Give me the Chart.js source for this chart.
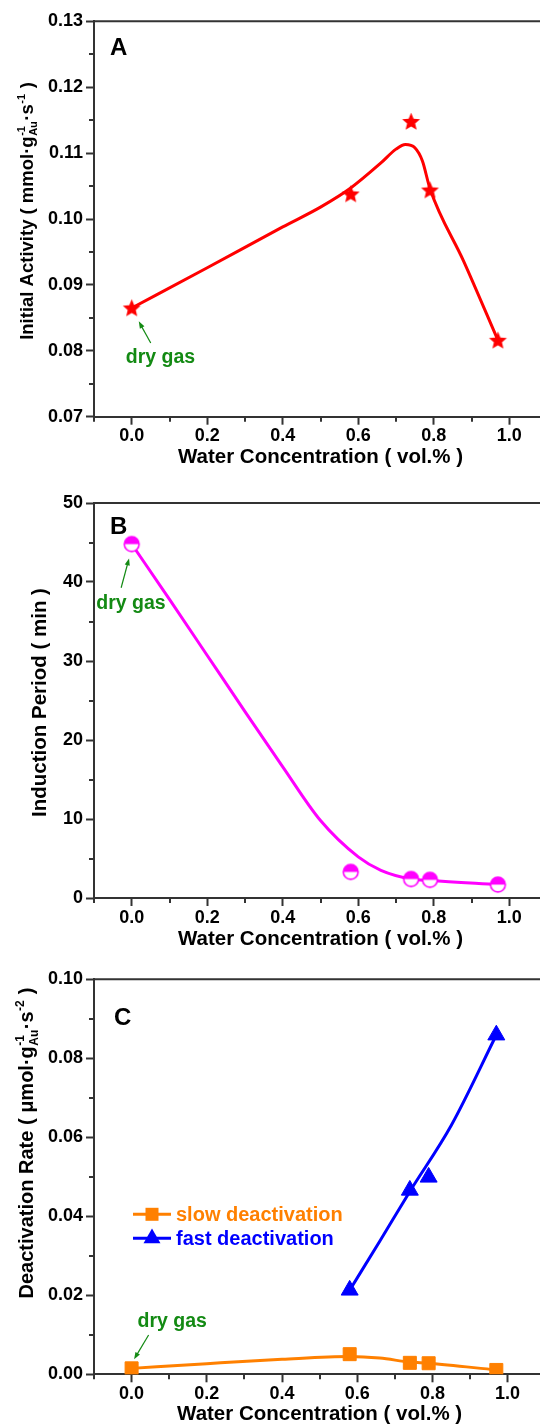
<!DOCTYPE html>
<html>
<head>
<meta charset="utf-8">
<script src="https://cdn.jsdelivr.net/npm/chart.js@4.4.1/dist/chart.umd.min.js"></script>
<style>
  html, body { margin: 0; padding: 0; background: #fff; }
  #wrap { position: relative; width: 540px; height: 1427px; overflow: hidden; background: #fff; }
  #wrap canvas { position: absolute; left: 0; }
</style>
</head>
<body>
<div id="wrap">
  <canvas id="chartA" width="556" height="476" style="top:0px"></canvas>
  <canvas id="chartB" width="556" height="476" style="top:476px"></canvas>
  <canvas id="chartC" width="556" height="475" style="top:952px"></canvas>
</div>
<script>
// ==========================================
// DATA
// ==========================================

// water concentration (vol.%) of the measured samples
const waterConc = [0, 0.58, 0.74, 0.79, 0.97];
const initialActivity = [0.0865, 0.1038, 0.1148, 0.1044, 0.0816];
const inductionPeriod = [44.8, 3.3, 2.4, 2.3, 1.7];
const slowRate = [0.0015, 0.0051, 0.0029, 0.0028, 0.0011];
const fastConc = [0.58, 0.74, 0.79, 0.97];
const fastRate = [0.0213, 0.0466, 0.0499, 0.0859];

// guide curves as drawn in the figure
const fitActX = [0, 0.2, 0.4, 0.5, 0.58, 0.66, 0.70, 0.725, 0.75, 0.77, 0.79, 0.88, 0.97];
const fitActY = [0.0865, 0.0926, 0.0988, 0.1018, 0.1047, 0.1085, 0.1106, 0.1113, 0.1108, 0.1088, 0.1046, 0.0935, 0.0816];
const fitIndX = [0, 0.1, 0.2, 0.3, 0.4, 0.5, 0.6, 0.66, 0.74, 0.79, 0.97];
const fitIndY = [44.8, 37.8, 30.7, 23.6, 16.6, 9.8, 5.2, 3.5, 2.4, 2.2, 1.7];
const fitSlowX = [0, 0.2, 0.4, 0.58, 0.66, 0.74, 0.79, 0.97];
const fitSlowY = [0.0015, 0.0027, 0.0038, 0.0045, 0.0041, 0.0031, 0.0028, 0.0011];
const fitFastX = [0.58, 0.66, 0.74, 0.85, 0.97];
const fitFastY = [0.0213, 0.0337, 0.0463, 0.0630, 0.0859];

// tick labels
const xTickLabels = [0.0, 0.2, 0.4, 0.6, 0.8, 1.0];
const activityTicks = [0.07, 0.08, 0.09, 0.10, 0.11, 0.12, 0.13];
const inductionTicks = [0, 10, 20, 30, 40, 50];
const rateTicks = [0.00, 0.02, 0.04, 0.06, 0.08, 0.10];

// ==========================================
// STYLE
// ==========================================
const FONT = "'Liberation Sans', Arial, Helvetica, sans-serif";
const AXIS_COLOR = '#333333';
const GREEN = '#138a13';
const RED = '#ff0000';
const MAGENTA = '#ff00ff';
const ORANGE = '#ff8000';
const BLUE = '#0000ff';

Chart.defaults.font.family = FONT;
Chart.defaults.font.weight = 'bold';
Chart.defaults.color = '#000';
Chart.defaults.animation = false;

function zipXY(xs, ys) {
    return xs.map((x, i) => ({ x: x, y: ys[i] }));
}

function isLabeled(v, list) {
    return list.some(l => Math.abs(l - v) < 1e-9);
}

// filled five-point star marker
function starMarker(color, R) {
    const s = Math.ceil(2 * R) + 2;
    const c = document.createElement('canvas');
    c.width = c.height = s;
    const g = c.getContext('2d');
    g.translate(s / 2, s / 2 + R * 0.08);
    g.beginPath();
    for (let k = 0; k < 10; k++) {
        const rr = k % 2 ? R * 0.45 : R;
        const a = -Math.PI / 2 + k * Math.PI / 5;
        g.lineTo(rr * Math.cos(a), rr * Math.sin(a));
    }
    g.closePath();
    g.fillStyle = color;
    g.fill();
    return c;
}

// circle with top half filled
function halfCircleMarker(color, r) {
    const s = Math.ceil(2 * r) + 4;
    const c = document.createElement('canvas');
    c.width = c.height = s;
    const g = c.getContext('2d');
    const m = s / 2;
    g.beginPath(); g.arc(m, m, r, 0, Math.PI * 2); g.fillStyle = '#fff'; g.fill();
    g.beginPath(); g.arc(m, m, r, Math.PI, Math.PI * 2); g.closePath(); g.fillStyle = color; g.fill();
    g.beginPath(); g.arc(m, m, r, 0, Math.PI * 2); g.lineWidth = 1.6; g.strokeStyle = color; g.stroke();
    return c;
}

// ==========================================
// PLUGINS
// ==========================================

// top/right frame lines + short minor ticks
const framePlugin = {
    id: 'frame',
    afterDraw(chart, args, o) {
        const ctx = chart.ctx;
        const a = chart.chartArea;
        const xs = chart.scales.x, ys = chart.scales.y;
        ctx.save();
        ctx.strokeStyle = AXIS_COLOR;
        ctx.lineWidth = 2;
        ctx.beginPath();
        ctx.moveTo(a.left - 1, a.top);
        ctx.lineTo(a.right, a.top);
        ctx.lineTo(a.right, a.bottom);
        ctx.stroke();
        xs.ticks.forEach(t => {
            if (isLabeled(t.value, o.xLabels)) return;
            const px = Math.round(xs.getPixelForValue(t.value));
            ctx.beginPath(); ctx.moveTo(px, a.bottom); ctx.lineTo(px, a.bottom + 5); ctx.stroke();
        });
        ys.ticks.forEach(t => {
            if (isLabeled(t.value, o.yLabels)) return;
            const py = Math.round(ys.getPixelForValue(t.value));
            ctx.beginPath(); ctx.moveTo(a.left, py); ctx.lineTo(a.left - 5, py); ctx.stroke();
        });
        ctx.restore();
    }
};

// rotated y title with super/subscripts
const yTitlePlugin = {
    id: 'yTitle',
    afterDraw(chart, args, o) {
        const ctx = chart.ctx;
        const size = o.size;
        const small = Math.round(size * 0.62);
        const big = 'bold ' + size + 'px ' + FONT;
        const sm = 'bold ' + small + 'px ' + FONT;
        const widthOf = p => {
            if (p.t !== undefined) { ctx.font = big; return ctx.measureText(p.t).width; }
            ctx.font = sm;
            return Math.max(p.sup ? ctx.measureText(p.sup).width : 0, p.sub ? ctx.measureText(p.sub).width : 0) + 1;
        };
        ctx.save();
        const total = o.parts.reduce((s, p) => s + widthOf(p), 0);
        ctx.translate(o.x, o.cy);
        ctx.rotate(-Math.PI / 2);
        ctx.fillStyle = '#000';
        ctx.textBaseline = 'alphabetic';
        let x = -total / 2;
        o.parts.forEach(p => {
            const w = widthOf(p);
            if (p.t !== undefined) {
                ctx.font = big; ctx.fillText(p.t, x, 0);
            } else {
                ctx.font = sm;
                if (p.sup) ctx.fillText(p.sup, x + 0.5, -size * 0.45);
                if (p.sub) ctx.fillText(p.sub, x + 0.5, size * 0.24);
            }
            x += w;
        });
        ctx.restore();
    }
};

// big panel letter
const panelLetterPlugin = {
    id: 'panelLetter',
    afterDraw(chart, args, o) {
        const ctx = chart.ctx;
        ctx.save();
        ctx.font = 'bold 24px ' + FONT;
        ctx.fillStyle = '#000';
        ctx.textBaseline = 'alphabetic';
        ctx.fillText(o.text, o.x, o.y);
        ctx.restore();
    }
};

// "dry gas" note with arrow, placed relative to a data point
const dryGasPlugin = {
    id: 'dryGas',
    afterDatasetsDraw(chart, args, o) {
        const p = chart.getDatasetMeta(o.dataset).data[o.index];
        if (!p) return;
        const ctx = chart.ctx;
        const tx = p.x + o.tip[0], ty = p.y + o.tip[1];
        const sx = p.x + o.tail[0], sy = p.y + o.tail[1];
        const ang = Math.atan2(ty - sy, tx - sx);
        ctx.save();
        ctx.strokeStyle = GREEN;
        ctx.fillStyle = GREEN;
        ctx.lineWidth = 1.2;
        ctx.beginPath(); ctx.moveTo(sx, sy); ctx.lineTo(tx - 4 * Math.cos(ang), ty - 4 * Math.sin(ang)); ctx.stroke();
        ctx.beginPath();
        ctx.moveTo(tx, ty);
        ctx.lineTo(tx - 7 * Math.cos(ang) + 2.6 * Math.sin(ang), ty - 7 * Math.sin(ang) - 2.6 * Math.cos(ang));
        ctx.lineTo(tx - 7 * Math.cos(ang) - 2.6 * Math.sin(ang), ty - 7 * Math.sin(ang) + 2.6 * Math.cos(ang));
        ctx.closePath();
        ctx.fill();
        ctx.font = 'bold 19.5px ' + FONT;
        ctx.textBaseline = 'alphabetic';
        ctx.fillText(o.label, p.x + o.text[0], p.y + o.text[1]);
        ctx.restore();
    }
};

// line + marker legend inside the plot (panel C)
const seriesLegendPlugin = {
    id: 'seriesLegend',
    afterDraw(chart, args, o) {
        if (!o.items) return;
        const ctx = chart.ctx;
        ctx.save();
        o.items.forEach((di, i) => {
            const ds = chart.data.datasets[di];
            const y = o.y + i * o.gap;
            const cx = o.x + o.len / 2;
            ctx.strokeStyle = ds.borderColor;
            ctx.fillStyle = ds.backgroundColor;
            ctx.lineWidth = 3;
            ctx.beginPath(); ctx.moveTo(o.x, y); ctx.lineTo(o.x + o.len, y); ctx.stroke();
            const r = ds.pointRadius;
            ctx.beginPath();
            if (ds.pointStyle === 'rect') {
                const h = r * Math.SQRT1_2;
                ctx.rect(cx - h, y - h, 2 * h, 2 * h);
            } else {
                for (let k = 0; k < 3; k++) {
                    const a = k * 2 * Math.PI / 3;
                    ctx.lineTo(cx + Math.sin(a) * r, y - Math.cos(a) * r);
                }
                ctx.closePath();
            }
            ctx.fill();
            ctx.font = 'bold 20px ' + FONT;
            ctx.textBaseline = 'middle';
            ctx.fillStyle = ds.borderColor;
            ctx.fillText(ds.label, o.x + o.len + 5, y + 1);
        });
        ctx.restore();
    }
};

// ==========================================
// SHARED OPTIONS
// ==========================================
function tickGrid(labels) {
    return {
        display: true,
        drawOnChartArea: false,
        drawTicks: true,
        tickLength: 8,
        tickWidth: 2,
        tickColor: c => (c.tick && isLabeled(c.tick.value, labels)) ? AXIS_COLOR : 'rgba(0,0,0,0)'
    };
}

function buildOptions(cfg) {
    return {
        responsive: false,
        devicePixelRatio: 1,
        events: [],
        layout: { padding: { top: cfg.plotTop, right: 6, left: 0, bottom: 0 } },
        scales: {
            x: {
                type: 'linear',
                min: -0.1,
                max: 1.1,
                ticks: {
                    stepSize: 0.1,
                    autoSkip: false,
                    maxRotation: 0,
                    padding: 1,
                    color: '#000',
                    font: { size: 18, weight: 'bold' },
                    callback: v => isLabeled(v, xTickLabels) ? v.toFixed(1) : ''
                },
                grid: tickGrid(xTickLabels),
                border: { display: true, color: AXIS_COLOR, width: 2 },
                title: {
                    display: true,
                    text: 'Water Concentration ( vol.% )',
                    color: '#000',
                    font: { size: 20.5, weight: 'bold' },
                    padding: { top: 0, bottom: cfg.titlePad }
                },
                afterFit: s => { s.height = cfg.xHeight; }
            },
            y: {
                type: 'linear',
                min: cfg.yMin,
                max: cfg.yMax,
                ticks: {
                    stepSize: cfg.yStep,
                    autoSkip: false,
                    padding: 3,
                    color: '#000',
                    font: { size: 18, weight: 'bold' },
                    callback: v => isLabeled(v, cfg.yLabels) ? v.toFixed(cfg.digits) : ''
                },
                grid: tickGrid(cfg.yLabels),
                border: { display: true, color: AXIS_COLOR, width: 2 },
                afterFit: s => { s.width = 94; }
            }
        },
        plugins: {
            legend: { display: false },
            tooltip: { enabled: false },
            frame: { xLabels: xTickLabels, yLabels: cfg.yLabels },
            yTitle: cfg.yTitle,
            panelLetter: cfg.letter,
            dryGas: cfg.dryGas,
            seriesLegend: cfg.legend || {}
        }
    };
}

const allPlugins = [framePlugin, yTitlePlugin, panelLetterPlugin, dryGasPlugin, seriesLegendPlugin];

// ==========================================
// PANEL A - initial activity
// ==========================================
new Chart(document.getElementById('chartA'), {
    type: 'scatter',
    data: {
        datasets: [
            { label: 'Initial Activity', data: zipXY(waterConc, initialActivity), pointStyle: starMarker(RED, 9.4), pointRadius: 8, showLine: false },
            { label: 'fit A', data: zipXY(fitActX, fitActY), showLine: true, borderColor: RED, borderWidth: 3, pointRadius: 0, cubicInterpolationMode: 'monotone' }
        ]
    },
    options: buildOptions({
        plotTop: 21.3, xHeight: 59.3, titlePad: 6.5,
        yMin: 0.07, yMax: 0.13, yStep: 0.005, yLabels: activityTicks, digits: 2,
        yTitle: { x: 33, cy: 211, size: 18.5, parts: [
            { t: 'Initial Activity ( mmol·g' }, { sup: '-1', sub: 'Au' }, { t: '·s' }, { sup: '-1' }, { t: ' )' }
        ] },
        letter: { text: 'A', x: 110, y: 55 },
        dryGas: { dataset: 0, index: 0, label: 'dry gas', tip: [7, 13.4], tail: [19, 35], text: [-6, 55] }
    }),
    plugins: allPlugins
});

// ==========================================
// PANEL B - induction period
// ==========================================
new Chart(document.getElementById('chartB'), {
    type: 'scatter',
    data: {
        datasets: [
            { label: 'Induction Period', data: zipXY(waterConc, inductionPeriod), pointStyle: halfCircleMarker(MAGENTA, 7.4), pointRadius: 8, showLine: false },
            { label: 'fit B', data: zipXY(fitIndX, fitIndY), showLine: true, borderColor: MAGENTA, borderWidth: 3, pointRadius: 0, cubicInterpolationMode: 'monotone' }
        ]
    },
    options: buildOptions({
        plotTop: 27, xHeight: 54, titlePad: 0.5,
        yMin: 0, yMax: 50, yStep: 5, yLabels: inductionTicks, digits: 0,
        yTitle: { x: 46, cy: 226.5, size: 20.5, parts: [ { t: 'Induction Period ( min )' } ] },
        letter: { text: 'B', x: 110, y: 58 },
        dryGas: { dataset: 0, index: 0, label: 'dry gas', tip: [-2.7, 14.3], tail: [-10.6, 43.7], text: [-35.4, 65] }
    }),
    plugins: allPlugins
});

// ==========================================
// PANEL C - deactivation rates
// ==========================================
new Chart(document.getElementById('chartC'), {
    type: 'scatter',
    data: {
        datasets: [
            { label: 'slow deactivation', data: zipXY(waterConc, slowRate), pointStyle: 'rect', pointRadius: 9.2, backgroundColor: ORANGE, borderColor: ORANGE, pointBorderWidth: 1, showLine: false },
            { label: 'fast deactivation', data: zipXY(fastConc, fastRate), pointStyle: 'triangle', pointRadius: 9.8, backgroundColor: BLUE, borderColor: BLUE, pointBorderWidth: 1, showLine: false },
            { label: 'fit slow', data: zipXY(fitSlowX, fitSlowY), showLine: true, borderColor: ORANGE, borderWidth: 3, pointRadius: 0, cubicInterpolationMode: 'monotone' },
            { label: 'fit fast', data: zipXY(fitFastX, fitFastY), showLine: true, borderColor: BLUE, borderWidth: 3, pointRadius: 0, cubicInterpolationMode: 'monotone' }
        ]
    },
    options: buildOptions({
        plotTop: 27.3, xHeight: 52.7, titlePad: 0,
        yMin: 0, yMax: 0.10, yStep: 0.01, yLabels: rateTicks, digits: 2,
        yTitle: { x: 33, cy: 191, size: 20, parts: [
            { t: 'Deactivation Rate ( μmol·g' }, { sup: '-1', sub: 'Au' }, { t: '·s' }, { sup: '-2' }, { t: ' )' }
        ] },
        letter: { text: 'C', x: 114, y: 73 },
        dryGas: { dataset: 0, index: 0, label: 'dry gas', tip: [2.5, -9.1], tail: [17, -33.4], text: [6, -41] },
        legend: { items: [0, 1], x: 133, y: 262.3, gap: 24, len: 38 }
    }),
    plugins: allPlugins
});
</script>
</body>
</html>
